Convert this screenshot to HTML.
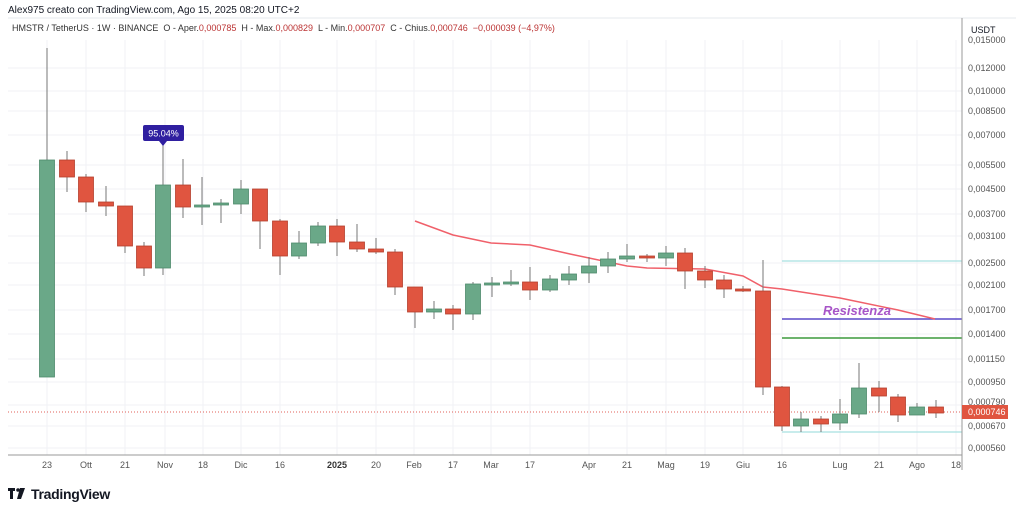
<!DOCTYPE html><html><head><meta charset="utf-8"><style>
body{margin:0;width:1024px;height:514px;background:#fff;overflow:hidden;font-family:"Liberation Sans",sans-serif}
.g{fill:#6aa888;stroke:#4e8a6c;stroke-width:0.8}.r{fill:#e05540;stroke:#b5402e;stroke-width:0.8}
</style></head><body>
<svg width="1024" height="514" xmlns="http://www.w3.org/2000/svg" font-family="Liberation Sans, sans-serif">
<text x="8" y="13" font-size="10" fill="#131722">Alex975 creato con TradingView.com, Ago 15, 2025 08:20 UTC+2</text>
<line x1="8" y1="18" x2="1016" y2="18" stroke="#e6e8ec"/>
<text x="12" y="31" font-size="9" fill="#333">HMSTR / TetherUS · 1W · BINANCE &#160;O - Aper.<tspan fill="#b33">0,000785</tspan> &#160;H - Max.<tspan fill="#b33">0,000829</tspan> &#160;L - Min.<tspan fill="#b33">0,000707</tspan> &#160;C - Chius.<tspan fill="#b33">0,000746</tspan> &#160;<tspan fill="#b33">−0,000039 (−4,97%)</tspan></text>
<g stroke="#f0f2f5" stroke-width="1">
<line x1="8" x2="962" y1="68" y2="68"/><line x1="8" x2="962" y1="91" y2="91"/><line x1="8" x2="962" y1="111" y2="111"/><line x1="8" x2="962" y1="135" y2="135"/><line x1="8" x2="962" y1="165" y2="165"/><line x1="8" x2="962" y1="189" y2="189"/><line x1="8" x2="962" y1="214" y2="214"/><line x1="8" x2="962" y1="236" y2="236"/><line x1="8" x2="962" y1="263" y2="263"/><line x1="8" x2="962" y1="285" y2="285"/><line x1="8" x2="962" y1="310" y2="310"/><line x1="8" x2="962" y1="334" y2="334"/><line x1="8" x2="962" y1="359" y2="359"/><line x1="8" x2="962" y1="382" y2="382"/><line x1="8" x2="962" y1="405" y2="405"/><line x1="8" x2="962" y1="426" y2="426"/><line x1="8" x2="962" y1="448" y2="448"/>
<line y1="40" y2="455" x1="47" x2="47"/><line y1="40" y2="455" x1="86" x2="86"/><line y1="40" y2="455" x1="125" x2="125"/><line y1="40" y2="455" x1="165" x2="165"/><line y1="40" y2="455" x1="203" x2="203"/><line y1="40" y2="455" x1="241" x2="241"/><line y1="40" y2="455" x1="280" x2="280"/><line y1="40" y2="455" x1="337" x2="337"/><line y1="40" y2="455" x1="376" x2="376"/><line y1="40" y2="455" x1="414" x2="414"/><line y1="40" y2="455" x1="453" x2="453"/><line y1="40" y2="455" x1="491" x2="491"/><line y1="40" y2="455" x1="530" x2="530"/><line y1="40" y2="455" x1="589" x2="589"/><line y1="40" y2="455" x1="627" x2="627"/><line y1="40" y2="455" x1="666" x2="666"/><line y1="40" y2="455" x1="705" x2="705"/><line y1="40" y2="455" x1="743" x2="743"/><line y1="40" y2="455" x1="782" x2="782"/><line y1="40" y2="455" x1="840" x2="840"/><line y1="40" y2="455" x1="879" x2="879"/><line y1="40" y2="455" x1="917" x2="917"/><line y1="40" y2="455" x1="956" x2="956"/>
</g>
<line x1="8" x2="962" y1="412" y2="412" stroke="#e0605a" stroke-dasharray="1,2" stroke-width="1"/>
<g stroke="#a8e0e0" stroke-width="1.2"><line x1="782" x2="962" y1="261" y2="261"/><line x1="782" x2="962" y1="432" y2="432"/></g>
<line x1="782" x2="962" y1="319" y2="319" stroke="#5a48c8" stroke-width="1.5"/>
<line x1="782" x2="962" y1="338" y2="338" stroke="#3d9a3d" stroke-width="1.5"/>
<polyline fill="none" stroke="#f0606a" stroke-width="1.5" points="415,221 453,235 491,243 530,245 570,254 627,266 647,268 705,269 743,276 763,287 782,289 840,298 898,310 935,319"/>
<g stroke="#777" stroke-width="1">
<line x1="47" x2="47" y1="48" y2="377"/><line x1="67" x2="67" y1="151" y2="192"/><line x1="86" x2="86" y1="174" y2="212"/><line x1="106" x2="106" y1="186" y2="216"/><line x1="125" x2="125" y1="206" y2="253"/><line x1="144" x2="144" y1="242" y2="276"/><line x1="163" x2="163" y1="145" y2="275"/><line x1="183" x2="183" y1="159" y2="218"/><line x1="202" x2="202" y1="177" y2="225"/><line x1="221" x2="221" y1="199" y2="223"/><line x1="241" x2="241" y1="180" y2="214"/><line x1="260" x2="260" y1="189" y2="249"/><line x1="280" x2="280" y1="219" y2="275"/><line x1="299" x2="299" y1="231" y2="259"/><line x1="318" x2="318" y1="222" y2="246"/><line x1="337" x2="337" y1="219" y2="256"/><line x1="357" x2="357" y1="224" y2="252"/><line x1="376" x2="376" y1="238" y2="254"/><line x1="395" x2="395" y1="249" y2="295"/><line x1="415" x2="415" y1="287" y2="328"/><line x1="434" x2="434" y1="301" y2="319"/><line x1="453" x2="453" y1="305" y2="330"/><line x1="473" x2="473" y1="282" y2="320"/><line x1="492" x2="492" y1="277" y2="297"/><line x1="511" x2="511" y1="270" y2="286"/><line x1="530" x2="530" y1="267" y2="300"/><line x1="550" x2="550" y1="275" y2="292"/><line x1="569" x2="569" y1="266" y2="285"/><line x1="589" x2="589" y1="257" y2="283"/><line x1="608" x2="608" y1="252" y2="273"/><line x1="627" x2="627" y1="244" y2="262"/><line x1="647" x2="647" y1="254" y2="262"/><line x1="666" x2="666" y1="246" y2="266"/><line x1="685" x2="685" y1="248" y2="289"/><line x1="705" x2="705" y1="266" y2="288"/><line x1="724" x2="724" y1="275" y2="298"/><line x1="743" x2="743" y1="286" y2="292"/><line x1="763" x2="763" y1="260" y2="395"/><line x1="782" x2="782" y1="386" y2="431"/><line x1="801" x2="801" y1="412" y2="432"/><line x1="821" x2="821" y1="416" y2="432"/><line x1="840" x2="840" y1="399" y2="430"/><line x1="859" x2="859" y1="363" y2="418"/><line x1="879" x2="879" y1="381" y2="412"/><line x1="898" x2="898" y1="394" y2="422"/><line x1="917" x2="917" y1="403" y2="415"/><line x1="936" x2="936" y1="400" y2="418"/>
</g>
<rect class="g" x="39.5" y="160" width="15" height="217"/>
<rect class="r" x="59.5" y="160" width="15" height="17"/>
<rect class="r" x="78.5" y="177" width="15" height="25"/>
<rect class="r" x="98.5" y="202" width="15" height="4"/>
<rect class="r" x="117.5" y="206" width="15" height="40"/>
<rect class="r" x="136.5" y="246" width="15" height="22"/>
<rect class="g" x="155.5" y="185" width="15" height="83"/>
<rect class="r" x="175.5" y="185" width="15" height="22"/>
<rect class="g" x="194.5" y="205" width="15" height="2"/>
<rect class="g" x="213.5" y="203" width="15" height="2"/>
<rect class="g" x="233.5" y="189" width="15" height="15"/>
<rect class="r" x="252.5" y="189" width="15" height="32"/>
<rect class="r" x="272.5" y="221" width="15" height="35"/>
<rect class="g" x="291.5" y="243" width="15" height="13"/>
<rect class="g" x="310.5" y="226" width="15" height="17"/>
<rect class="r" x="329.5" y="226" width="15" height="16"/>
<rect class="r" x="349.5" y="242" width="15" height="7"/>
<rect class="r" x="368.5" y="249" width="15" height="3"/>
<rect class="r" x="387.5" y="252" width="15" height="35"/>
<rect class="r" x="407.5" y="287" width="15" height="25"/>
<rect class="g" x="426.5" y="309" width="15" height="3"/>
<rect class="r" x="445.5" y="309" width="15" height="5"/>
<rect class="g" x="465.5" y="284" width="15" height="30"/>
<rect class="g" x="484.5" y="283" width="15" height="2"/>
<rect class="g" x="503.5" y="282" width="15" height="2"/>
<rect class="r" x="522.5" y="282" width="15" height="8"/>
<rect class="g" x="542.5" y="279" width="15" height="11"/>
<rect class="g" x="561.5" y="274" width="15" height="6"/>
<rect class="g" x="581.5" y="266" width="15" height="7"/>
<rect class="g" x="600.5" y="259" width="15" height="7"/>
<rect class="g" x="619.5" y="256" width="15" height="3"/>
<rect class="r" x="639.5" y="256" width="15" height="2"/>
<rect class="g" x="658.5" y="253" width="15" height="5"/>
<rect class="r" x="677.5" y="253" width="15" height="18"/>
<rect class="r" x="697.5" y="271" width="15" height="9"/>
<rect class="r" x="716.5" y="280" width="15" height="9"/>
<rect class="r" x="735.5" y="289" width="15" height="2"/>
<rect class="r" x="755.5" y="291" width="15" height="96"/>
<rect class="r" x="774.5" y="387" width="15" height="39"/>
<rect class="g" x="793.5" y="419" width="15" height="7"/>
<rect class="r" x="813.5" y="419" width="15" height="5"/>
<rect class="g" x="832.5" y="414" width="15" height="9"/>
<rect class="g" x="851.5" y="388" width="15" height="26"/>
<rect class="r" x="871.5" y="388" width="15" height="8"/>
<rect class="r" x="890.5" y="397" width="15" height="18"/>
<rect class="g" x="909.5" y="407" width="15" height="8"/>
<rect class="r" x="928.5" y="407" width="15" height="6"/>
<rect x="143" y="125" width="41" height="16" rx="2" fill="#2f1fa0"/>
<polygon points="159,141 167,141 163,146" fill="#2f1fa0"/>
<text x="163.5" y="136.5" font-size="9" fill="#fff" text-anchor="middle">95.04%</text>
<text x="857" y="315" font-size="13" font-weight="bold" font-style="italic" fill="#a855c8" text-anchor="middle">Resistenza</text>
<line x1="962" x2="962" y1="18" y2="470" stroke="#999"/>
<line x1="8" x2="962" y1="455" y2="455" stroke="#999"/>
<text x="971" y="33" font-size="9" fill="#131722">USDT</text>
<g font-size="9" fill="#555">
<text x="968" y="43">0,015000</text><text x="968" y="71">0,012000</text><text x="968" y="94">0,010000</text><text x="968" y="114">0,008500</text><text x="968" y="138">0,007000</text><text x="968" y="168">0,005500</text><text x="968" y="192">0,004500</text><text x="968" y="217">0,003700</text><text x="968" y="239">0,003100</text><text x="968" y="266">0,002500</text><text x="968" y="288">0,002100</text><text x="968" y="313">0,001700</text><text x="968" y="337">0,001400</text><text x="968" y="362">0,001150</text><text x="968" y="385">0,000950</text><text x="968" y="405">0,000790</text><text x="968" y="429">0,000670</text><text x="968" y="451">0,000560</text>
</g>
<rect x="962" y="405" width="46" height="14" fill="#e05540"/>
<text x="968" y="415" font-size="9" fill="#fff">0,000746</text>
<g font-size="9" fill="#555" text-anchor="middle">
<text x="47" y="468">23</text><text x="86" y="468">Ott</text><text x="125" y="468">21</text><text x="165" y="468">Nov</text><text x="203" y="468">18</text><text x="241" y="468">Dic</text><text x="280" y="468">16</text><text x="337" y="468" font-weight="bold" fill="#333">2025</text><text x="376" y="468">20</text><text x="414" y="468">Feb</text><text x="453" y="468">17</text><text x="491" y="468">Mar</text><text x="530" y="468">17</text><text x="589" y="468">Apr</text><text x="627" y="468">21</text><text x="666" y="468">Mag</text><text x="705" y="468">19</text><text x="743" y="468">Giu</text><text x="782" y="468">16</text><text x="840" y="468">Lug</text><text x="879" y="468">21</text><text x="917" y="468">Ago</text><text x="956" y="468">18</text>
</g>
<rect x="8" y="488" width="7" height="3" fill="#131722"/><rect x="10" y="488" width="3" height="11" fill="#131722"/><circle cx="18" cy="490" r="1.8" fill="#131722"/><polygon points="20,488 25,488 21,499 17,499" fill="#131722"/>
<text x="31" y="499" font-size="14" font-weight="bold" fill="#131722" letter-spacing="-0.3">TradingView</text>
</svg>
</body></html>
